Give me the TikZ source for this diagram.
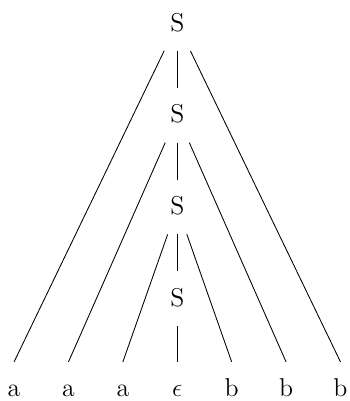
\documentclass[tikz,border=0pt]{standalone}
\usepackage{amssymb}
\usepackage{amsmath}
\usepackage{tikz}

\begin{document}
\begin{tikzpicture}[
    sym/.style={rectangle, minimum width=1cm, inner xsep=0pt, inner ysep=9pt,
        text height=7pt, text depth=0pt, anchor=base, font=\large},
    branch/.style={draw=black, line width=0.4pt}
]
\useasboundingbox (0, 0) rectangle (5.71, 6.56);

%% ---- Nichtterminale (S-Kette in der Mitte) ----
\node[sym] (s1) at (2.90, 6.05) {S};
\node[sym] (s2) at (2.90, 4.55) {S};
\node[sym] (s3) at (2.90, 3.05) {S};
\node[sym] (s4) at (2.90, 1.55) {S};

%% ---- Terminale (alle auf einer Zeile) ----
\node[sym] (a1)  at (0.23, 0.07) {a};
\node[sym] (a2)  at (1.12, 0.07) {a};
\node[sym] (a3)  at (2.01, 0.07) {a};
\node[sym] (eps) at (2.90, 0.07) {$\epsilon$};
\node[sym] (b3)  at (3.79, 0.07) {b};
\node[sym] (b2)  at (4.68, 0.07) {b};
\node[sym] (b1)  at (5.57, 0.07) {b};

%% ---- Kanten: S -> a S b ----
\draw[branch] (s1) -- (a1.north);
\draw[branch] (s1) -- (s2.north);
\draw[branch] (s1) -- (b1.north);

\draw[branch] (s2) -- (a2.north);
\draw[branch] (s2) -- (s3.north);
\draw[branch] (s2) -- (b2.north);

\draw[branch] (s3) -- (a3.north);
\draw[branch] (s3) -- (s4.north);
\draw[branch] (s3) -- (b3.north);

%% ---- Kante: S -> epsilon ----
\draw[branch] (s4) -- (eps.north);

\end{tikzpicture}
\end{document}
